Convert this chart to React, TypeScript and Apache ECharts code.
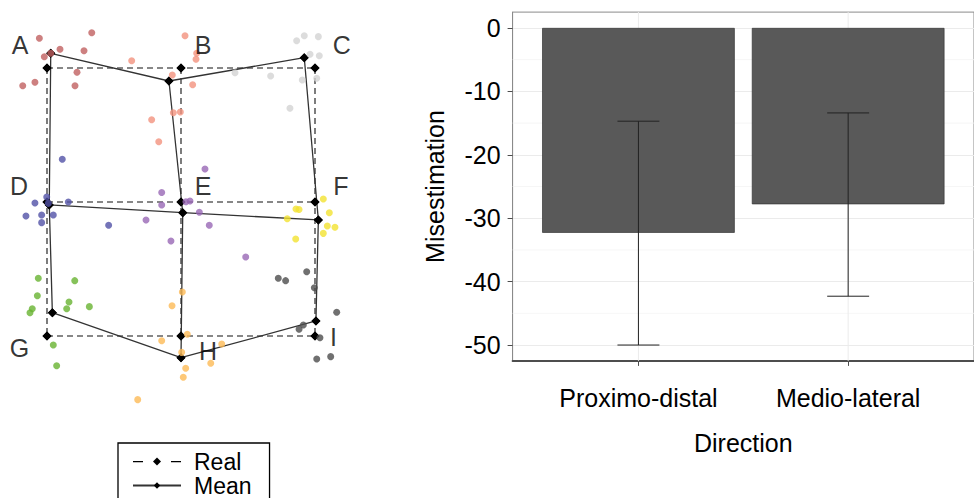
import React, { useEffect, useRef } from "react";
import * as echarts from "echarts";

const FONT = "'Liberation Sans', Arial, Helvetica, sans-serif";
const FS = 25;

// ---------- Right panel data ----------
const categories = ["Proximo-distal", "Medio-lateral"];
const misestimation = [-32.3, -27.8];
const errLow = [-50.0, -42.3];
const errHigh = [-14.7, -13.4];
const yTicks = [-50, -40, -30, -20, -10, 0];
const yMinor = [-45, -35, -25, -15, -5];

// ---------- Left panel data ----------
const landmarks = ["A", "B", "C", "D", "E", "F", "G", "H", "I"];
const realX = [0, 1, 2, 0, 1, 2, 0, 1, 2];
const realY = [2, 2, 2, 1, 1, 1, 0, 0, 0];
const meanX = [0.028, 0.91, 1.92, 0.017, 1.013, 2.025, 0.04, 1.0, 2.007];
const meanY = [2.11, 1.903, 2.077, 0.978, 0.92, 0.866, 0.174, -0.162, 0.112];
const labelX = [-0.201, 1.164, 2.2, -0.209, 1.164, 2.194, -0.205, 1.201, 2.137];
const labelY = [2.172, 2.172, 2.172, 1.119, 1.119, 1.119, -0.086, -0.112, -0.011];
const segments = [
  [0, 1, 2],
  [3, 4, 5],
  [6, 7, 8],
  [0, 3, 6],
  [1, 4, 7],
  [2, 5, 8],
];

const ptsA = [[-0.057, 2.222], [0.334, 2.263], [0.097, 2.14], [-0.02, 2.084], [0.276, 2.129], [0.224, 1.968], [-0.09, 1.893], [-0.181, 1.868], [0.209, 1.868], [0.028, 2.11]];
const ptsB = [[1.03, 2.241], [1.117, 2.11], [1.112, 2.065], [0.632, 2.054], [0.935, 1.948], [1.087, 1.875], [0.943, 1.666], [0.995, 1.672], [0.781, 1.614], [0.834, 1.45]];
const ptsC = [[1.863, 2.204], [1.92, 2.241], [2.025, 2.234], [1.963, 2.102], [2.032, 2.092], [1.403, 1.965], [1.669, 1.94], [1.905, 1.91], [2.013, 1.923], [1.813, 1.699]];
const ptsD = [[0.114, 1.319], [-0.002, 1.037], [-0.09, 0.993], [0.159, 1.0], [-0.157, 0.896], [-0.04, 0.903], [0.047, 0.903], [-0.04, 0.846], [0.46, 0.826], [0.01, 0.99]];
const ptsE = [[1.179, 1.246], [0.856, 1.071], [1.067, 1.007], [0.856, 0.978], [1.137, 0.923], [1.211, 0.826], [0.739, 0.866], [0.925, 0.709], [1.483, 0.59], [1.037, 1.002]];
const ptsF = [[2.062, 1.022], [1.858, 0.948], [1.881, 0.944], [1.793, 0.875], [2.107, 0.92], [2.092, 0.821], [2.149, 0.811], [2.062, 0.766], [1.856, 0.724]];
const ptsG = [[-0.065, 0.431], [0.207, 0.413], [-0.072, 0.301], [0.164, 0.254], [0.147, 0.204], [0.316, 0.219], [-0.11, 0.204], [-0.127, 0.174], [0.047, -0.067], [0.072, -0.222]];
const ptsH = [[1.01, 0.328], [0.933, 0.226], [1.047, 0.013], [0.856, -0.035], [1.304, -0.06], [1.005, -0.122], [1.222, -0.204], [1.035, -0.241], [1.017, -0.308], [0.677, -0.475]];
const ptsI = [[1.938, 0.48], [1.726, 0.431], [1.781, 0.413], [1.995, 0.36], [2.162, 0.177], [1.913, 0.082], [1.881, 0.05], [2.037, -0.013], [2.013, -0.172], [2.117, -0.154]];
const pointGroups = [ptsA, ptsB, ptsC, ptsD, ptsE, ptsF, ptsG, ptsH, ptsI];
const groupColors = ["#c06060", "#f2927e", "#d3d3d3", "#5151a6", "#9868b5", "#f2e231", "#68b331", "#fcba56", "#4c4c4c"];

// ---------- layout ----------
const R_LEFT = 512.6;
const R_WIDTH = 470.8;
const X_SPAN = 2.2;

// legend key for the dashed "Real" line: dash, diamond, dash (48 x 8 box)
const REAL_ICON = "path://M0,3.4h10v1.3h-10z M20,4 L24,0 L28,4 L24,8 Z M38,3.4h10v1.3h-10z";

function buildOption(): any {
  const series: any[] = [];

  segments.forEach((seg) => {
    series.push({
      type: "line",
      name: "Real",
      xAxisIndex: 0,
      yAxisIndex: 0,
      data: seg.map((i) => [realX[i], realY[i]]),
      symbol: "diamond",
      symbolSize: 9,
      itemStyle: { color: "#000" },
      lineStyle: { color: "#111", width: 1.1, type: [6, 4] },
      z: 2,
      silent: true,
    });
  });
  segments.forEach((seg) => {
    series.push({
      type: "line",
      name: "Mean",
      xAxisIndex: 0,
      yAxisIndex: 0,
      data: seg.map((i) => [meanX[i], meanY[i]]),
      symbol: "diamond",
      symbolSize: 9,
      itemStyle: { color: "#000" },
      lineStyle: { color: "#333", width: 1.3, type: "solid" },
      z: 2,
      silent: true,
    });
  });
  pointGroups.forEach((pts, gi) => {
    series.push({
      type: "scatter",
      name: landmarks[gi],
      xAxisIndex: 0,
      yAxisIndex: 0,
      data: pts,
      symbol: "circle",
      symbolSize: 7,
      itemStyle: { color: groupColors[gi], opacity: 0.8 },
      z: 3,
      silent: true,
    });
  });
  series.push({
    type: "scatter",
    name: "labels",
    xAxisIndex: 0,
    yAxisIndex: 0,
    symbolSize: 0,
    data: landmarks.map((n, i) => ({ name: n, value: [labelX[i], labelY[i]] })),
    label: {
      show: true,
      position: "inside",
      formatter: "{b}",
      fontSize: FS,
      color: "#000",
      fontFamily: FONT,
    },
    z: 4,
    silent: true,
  });

  // right panel: minor horizontal grid
  series.push({
    type: "custom",
    name: "minorGrid",
    xAxisIndex: 1,
    yAxisIndex: 1,
    data: yMinor.map((v) => [1, v]),
    encode: { x: 0, y: 1 },
    z: 1,
    silent: true,
    renderItem: (params: any, api: any) => {
      const cs = params.coordSys;
      const y = api.coord([api.value(0), api.value(1)])[1];
      return {
        type: "line",
        shape: { x1: cs.x, y1: y, x2: cs.x + cs.width, y2: y },
        style: { stroke: "#f4f4f4", lineWidth: 0.8 },
      };
    },
  });
  // vertical grid at categories
  series.push({
    type: "custom",
    name: "vGrid",
    xAxisIndex: 1,
    yAxisIndex: 1,
    data: categories.map((_, i) => [i + 1, 0]),
    encode: { x: 0, y: 1 },
    z: 1,
    silent: true,
    renderItem: (params: any, api: any) => {
      const cs = params.coordSys;
      const x = api.coord([api.value(0), 0])[0];
      return {
        type: "line",
        shape: { x1: x, y1: cs.y, x2: x, y2: cs.y + cs.height },
        style: { stroke: "#ebebeb", lineWidth: 1 },
      };
    },
  });
  series.push({
    type: "bar",
    name: "Misestimation",
    xAxisIndex: 1,
    yAxisIndex: 1,
    data: misestimation.map((v, i) => [i + 1, v]),
    barWidth: (0.9 * R_WIDTH) / X_SPAN,
    itemStyle: { color: "#595959", borderColor: "#333", borderWidth: 0.7 },
    z: 2,
    silent: true,
  });
  series.push({
    type: "custom",
    name: "errorbars",
    xAxisIndex: 1,
    yAxisIndex: 1,
    data: errLow.map((lo, i) => [i + 1, lo, errHigh[i]]),
    encode: { x: 0, y: [1, 2] },
    z: 3,
    silent: true,
    renderItem: (_params: any, api: any) => {
      const x = api.value(0);
      const lo = api.value(1);
      const hi = api.value(2);
      const pLo = api.coord([x, lo]);
      const pHi = api.coord([x, hi]);
      const half = api.coord([x + 0.1, lo])[0] - pLo[0];
      const st = { stroke: "#222", lineWidth: 1 };
      return {
        type: "group",
        children: [
          { type: "line", shape: { x1: pLo[0], y1: pLo[1], x2: pHi[0], y2: pHi[1] }, style: st },
          { type: "line", shape: { x1: pLo[0] - half, y1: pLo[1], x2: pLo[0] + half, y2: pLo[1] }, style: st },
          { type: "line", shape: { x1: pHi[0] - half, y1: pHi[1], x2: pHi[0] + half, y2: pHi[1] }, style: st },
        ],
      };
    },
  });

  return {
    animation: false,
    backgroundColor: "#fff",
    textStyle: { fontFamily: FONT },
    legend: {
      data: [
        { name: "Real", icon: REAL_ICON },
        { name: "Mean" },
      ],
      orient: "vertical",
      left: 118,
      top: 443,
      width: 200,
      height: 80,
      padding: [7, 18, 12, 14],
      itemGap: 1,
      itemWidth: 48,
      itemHeight: 8,
      borderColor: "#000",
      borderWidth: 1.3,
      selectedMode: false,
      textStyle: {
        fontSize: 23,
        color: "#000",
        fontFamily: FONT,
        padding: [0, 0, 0, 8],
      },
    },
    grid: [
      { left: 6.8, top: 14.4, width: 361.8, height: 402 },
      {
        left: R_LEFT,
        top: 12.1,
        width: R_WIDTH,
        height: 348.8,
        show: true,
        borderColor: "#8a8a8a",
        borderWidth: 1,
        backgroundColor: "transparent",
      },
    ],
    xAxis: [
      { gridIndex: 0, type: "value", min: -0.3, max: 2.4, show: false },
      {
        gridIndex: 1,
        type: "value",
        min: 0.4,
        max: 2.6,
        position: "bottom",
        axisLine: { show: true, onZero: false, lineStyle: { color: "#4d4d4d", width: 2 } },
        axisTick: { show: true, customValues: [1, 2], length: 5, lineStyle: { color: "#4d4d4d" } },
        axisLabel: {
          customValues: [1, 2],
          formatter: (v: number) => categories[Math.round(v) - 1] ?? "",
          fontSize: FS,
          color: "#000",
          margin: 25,
          fontFamily: FONT,
        },
        splitLine: { show: false },
        name: "Direction",
        nameLocation: "middle",
        nameGap: 70,
        nameTextStyle: { fontSize: FS, color: "#000", fontFamily: FONT },
      },
    ],
    yAxis: [
      { gridIndex: 0, type: "value", min: -0.6, max: 2.4, show: false },
      {
        gridIndex: 1,
        type: "value",
        min: -52.5,
        max: 2.5,
        splitNumber: 5,
        axisLine: { show: true, onZero: false, lineStyle: { color: "#8a8a8a", width: 1 } },
        axisTick: { show: true, customValues: yTicks, length: 5, lineStyle: { color: "#4d4d4d" } },
        axisLabel: {
          customValues: yTicks,
          fontSize: FS,
          color: "#000",
          margin: 12,
          fontFamily: FONT,
        },
        splitLine: { show: true, lineStyle: { color: "#ebebeb", width: 1 } },
        name: "Misestimation",
        nameLocation: "middle",
        nameRotate: 90,
        nameGap: 65,
        nameTextStyle: { fontSize: FS, color: "#000", fontFamily: FONT },
      },
    ],
    series,
  };
}

export default function App() {
  const ref = useRef<HTMLDivElement>(null);
  useEffect(() => {
    if (!ref.current) return;
    const chart = echarts.init(ref.current, undefined, { renderer: "svg" });
    chart.setOption(buildOption());
    return () => chart.dispose();
  }, []);
  return (
    <div
      ref={ref}
      style={{ position: "fixed", left: 0, top: 0, width: 974, height: 498, background: "#fff" }}
    />
  );
}
